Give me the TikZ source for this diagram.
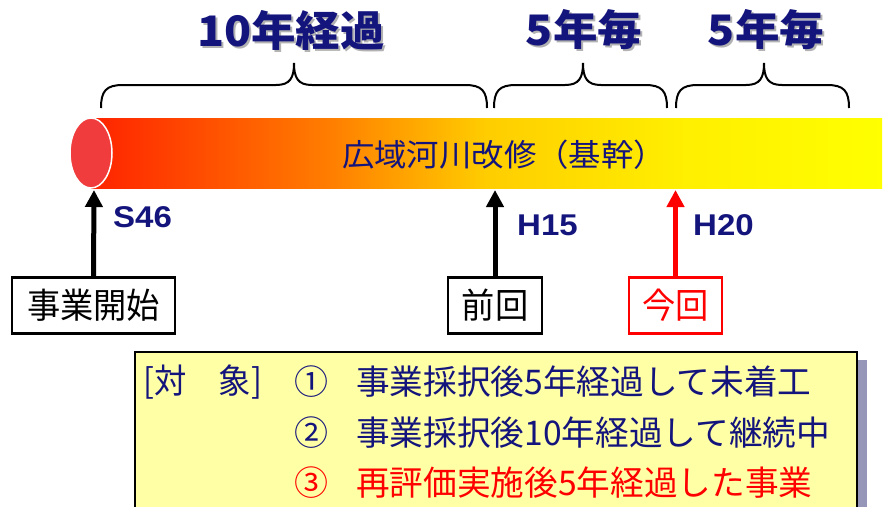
\documentclass[tikz,border=0pt]{standalone}
\usepackage{fontspec}
\usepackage{graphicx}
\setmainfont{Noto Sans CJK JP}
\newfontfamily\latb{Liberation Sans}
\usetikzlibrary{arrows.meta}
\definecolor{navy}{RGB}{20,20,125}
\definecolor{panelfill}{RGB}{255,255,165}
\definecolor{panelshadow}{RGB}{150,150,185}
\definecolor{cA}{RGB}{255,35,0}
\definecolor{cB}{RGB}{255,125,0}
\definecolor{cC}{RGB}{255,205,0}
\definecolor{cD}{RGB}{255,238,0}
\definecolor{cE}{RGB}{255,255,0}
\definecolor{capred}{RGB}{240,60,60}
\pgfdeclarehorizontalshading{barshade}{100bp}{color(0bp)=(cA); color(25bp)=(cA); color(40bp)=(cB); color(50bp)=(cC); color(62bp)=(cD); color(75bp)=(cE); color(100bp)=(cE)}
\newcommand{\hstretch}[2][1.12]{\scalebox{#1}[1]{#2}}
\tikzset{
  headtxt/.style={font=\fontsize{42}{46}\selectfont\bfseries, text=navy, inner sep=0pt},
  headshadow/.style={font=\fontsize{42}{46}\selectfont\bfseries, text=black!30, inner sep=0pt},
  bracepath/.style={line width=2pt, draw=black},
  arr/.style={line width=5pt, -{Triangle[width=17pt,length=17pt]}},
  yearlbl/.style={font=\latb\bfseries\fontsize{30}{34}\selectfont, text=navy, anchor=west, inner sep=0pt},
  ptbox/.style={draw, line width=2.2pt, minimum height=56pt, inner sep=0pt, font=\fontsize{35}{38}\selectfont},
  listtxt/.style={font=\fontsize{34}{37}\selectfont, text=navy, anchor=west, inner sep=0pt},
  numtxt/.style={font=\fontsize{34}{37}\selectfont, text=navy, inner sep=0pt}
}
\begin{document}
\begin{tikzpicture}[x=1pt,y=-1pt]
\useasboundingbox (0,0) rectangle (883,506);
\fill[white] (0,0) rectangle (883,506);
% headers
\node[headshadow] at (293,32) {\hstretch[1.06]{10年経過}};
\node[headtxt] (h1) at (291,30) {\hstretch[1.06]{10年経過}};
\node[headshadow] at (586,32) {\hstretch[1.06]{5年毎}};
\node[headtxt] (h2) at (584,30) {\hstretch[1.06]{5年毎}};
\node[headshadow] at (768,32) {\hstretch[1.06]{5年毎}};
\node[headtxt] (h3) at (766,30) {\hstretch[1.06]{5年毎}};
% braces
\draw[bracepath] (101,108) .. controls (101,91) and (106,85) .. (123,85) -- (276,85) .. controls (290,85) and (294,78) .. (294,63) .. controls (294,78) and (298,85) .. (312,85) -- (465,85) .. controls (482,85) and (487,91) .. (487,108);
\draw[bracepath] (494,108) .. controls (494,91) and (499,85) .. (516,85) -- (565,85) .. controls (579,85) and (583,78) .. (583,63) .. controls (583,78) and (587,85) .. (601,85) -- (645,85) .. controls (662,85) and (667,91) .. (667,108);
\draw[bracepath] (676,108) .. controls (676,91) and (681,85) .. (698,85) -- (746,85) .. controls (760,85) and (764,78) .. (764,63) .. controls (764,78) and (768,85) .. (782,85) -- (827,85) .. controls (844,85) and (849,91) .. (849,108);
% bar
\shade[shading=barshade] (91,118) rectangle (882,188);
\fill[capred] (91,153) ellipse [x radius=21, y radius=35];
\draw[white, line width=1.5pt] (91,153) ellipse [x radius=21, y radius=35];
\node[font=\fontsize{31}{34}\selectfont, text=navy, inner sep=0pt] (bar) at (504,155) {\hstretch[1.045]{広域河川改修（基幹）}};
\coordinate (t1) at (94,190);
\coordinate (t2) at (495,190);
\coordinate (t3) at (675.5,190);
% boxes
\node[ptbox, minimum width=163pt] (b1) at (93.5,305.5) {\hstretch[0.95]{事業開始}};
\node[ptbox, minimum width=94pt] (b2) at (495,305.5) {\hstretch[0.95]{前回}};
\node[ptbox, minimum width=93pt, draw=red, text=red] (b3) at (675.5,305.5) {\hstretch[0.95]{今回}};
\draw[arr, black] (b1.north) -- (t1);
\draw[arr, black] (b2.north) -- (t2);
\draw[arr, red] (b3.north) -- (t3);
\node[yearlbl] (y1) at (113,217) {\hstretch[1.1]{S46}};
\node[yearlbl] (y2) at (517,225) {\hstretch[1.1]{H15}};
\node[yearlbl] (y3) at (693,225) {\hstretch[1.1]{H20}};
% panel
\fill[panelshadow] (857,360) rectangle (867,512);
\draw[fill=panelfill, line width=2.5pt] (135,352) rectangle (857,512);
\node[listtxt] (tg) at (143,382) {\hstretch[0.95]{[対　象]}};
\node[numtxt] (n1) at (311,382) {①};
\node[listtxt] (l1) at (356,382) {\hstretch[0.99]{事業採択後5年経過して未着工}};
\node[numtxt] (n2) at (311,433) {②};
\node[listtxt] (l2) at (356,433) {\hstretch[0.99]{事業採択後10年経過して継続中}};
\node[numtxt, text=red] (n3) at (311,483) {③};
\node[listtxt, text=red] (l3) at (356,483) {\hstretch[0.99]{再評価実施後5年経過した事業}};
\end{tikzpicture}
\end{document}
